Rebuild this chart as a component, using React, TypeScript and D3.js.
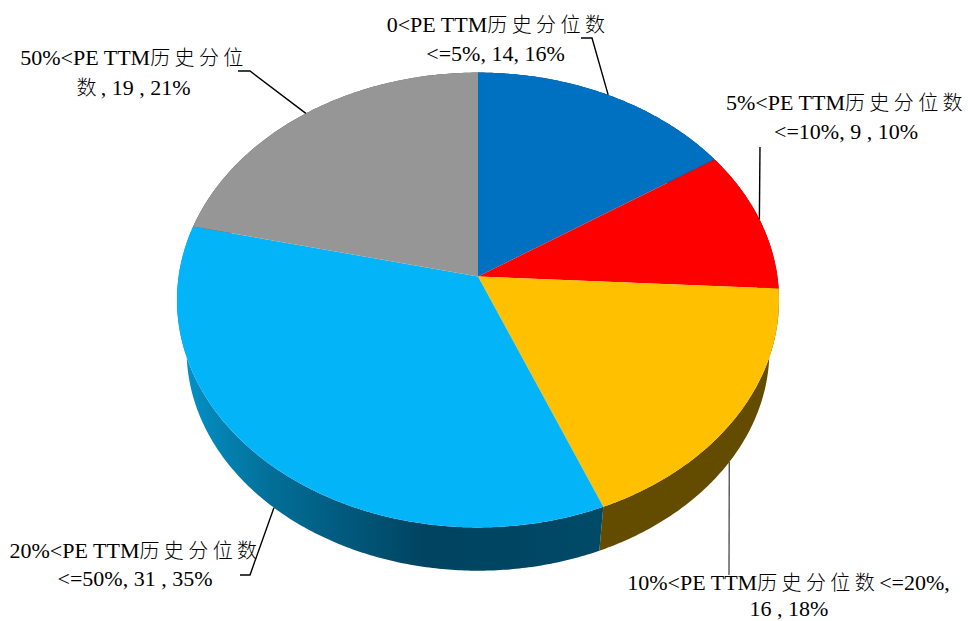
import React from "react";
import * as d3 from "d3";

const categories = [
  "0<PE TTM历史分位数<=5%",
  "5%<PE TTM历史分位数<=10%",
  "10%<PE TTM历史分位数<=20%",
  "20%<PE TTM历史分位数<=50%",
  "50%<PE TTM历史分位数",
];
const counts = [14, 9, 16, 31, 19];
const percents = ["16%", "10%", "18%", "35%", "21%"];
const topColors = ["#0070C0", "#FF0000", "#FFC000", "#04B4F8", "#969696"];
const sideColors = ["#003a66", "#8b0000", "#634c00", "url(#sideBlue)", "#555555"];

// label layout: text lines (anchor centre x, baseline y) + leader elbow
const labelLines: [string, number, number][][] = [
  [["0<PE TTM历史分位数", 498, 32], ["<=5%, 14, 16%", 495.5, 61]],
  [["5%<PE TTM历史分位数", 846.5, 110], ["<=10%, 9 , 10%", 846, 139]],
  [["10%<PE TTM历史分位数<=20%,", 788.5, 590], ["16 , 18%", 789, 616]],
  [["20%<PE TTM历史分位数", 135.5, 558], ["<=50%, 31 , 35%", 135, 586]],
  [["50%<PE TTM历史分位", 134, 65], ["数, 19 , 21%", 133.5, 95]],
];
const leaderElbows: [number, number][][] = [
  [[592, 38], [581, 38]],
  [[760, 147]],
  [[729, 575]],
  [[250, 575], [240, 575]],
  [[250, 71], [238, 71]],
];
const leaderColors = ["#000", "#000", "#555", "#000", "#000"];
const leaderOnRim = [false, false, true, true, false];

const W = 968, H = 621;
const cx = 478, apexY = 276.5;
const persp = 0.1033, R = 299.4, S = 225;
const vanishY = 1880, rimScale = 0.968;

function project(a: number): [number, number] {
  const u = Math.sin(a), v = -Math.cos(a), d = 1 - persp * v;
  return [cx + (R * u) / d, apexY + (S * v) / d];
}
function rim([x, y]: [number, number]): [number, number] {
  return [cx + (x - cx) * rimScale, vanishY + (y - vanishY) * rimScale];
}
function arcPoints(a0: number, a1: number) {
  const n = Math.max(2, Math.ceil((a1 - a0) / 0.01));
  return d3.range(n + 1).map((i) => project(a0 + ((a1 - a0) * i) / n));
}

function isCjk(c: string) {
  return /[\u4e00-\u9fff]/.test(c);
}
function Label({ text, x, y }: { text: string; x: number; y: number }) {
  // split into Latin / CJK runs so that each can have its own font and spacing
  const runs: { s: string; cjk: boolean }[] = [];
  for (const c of text) {
    const cjk = isCjk(c);
    const last = runs[runs.length - 1];
    if (last && last.cjk === cjk) last.s += c;
    else runs.push({ s: c, cjk });
  }
  return (
    <text x={x} y={y} textAnchor="middle" fontFamily="'Liberation Serif'" fontSize={22} fill="#000">
      {runs.map((r, i) =>
        r.cjk ? (
          <tspan key={i} fontFamily="'Noto Sans CJK SC'" fontSize={20} fontWeight={300} letterSpacing={4.4}>
            {r.s}
          </tspan>
        ) : (
          <tspan key={i}>{r.s}</tspan>
        )
      )}
    </text>
  );
}

export default function App() {
  const pie = d3.pie<number>().sort(null).value((d) => d);
  const arcs = pie(counts);
  const line = d3.line();
  return (
    <svg
      width={W}
      height={H}
      viewBox={`0 0 ${W} ${H}`}
      style={{ position: "absolute", left: 0, top: 0, background: "#fff", display: "block" }}
    >
      <defs>
        <linearGradient id="sideBlue" gradientUnits="userSpaceOnUse" x1={187} x2={600} y1={0} y2={0}>
          <stop offset="0" stopColor="#0390c6" />
          <stop offset="0.2" stopColor="#026f98" />
          <stop offset="0.58" stopColor="#004360" />
          <stop offset="1" stopColor="#004a68" />
        </linearGradient>
      </defs>
      {arcs.map((d, i) => {
        const top = arcPoints(d.startAngle, d.endAngle);
        const bottom = top.map(rim).reverse();
        return <path key={i} d={line([...top, ...bottom] as [number, number][]) + "Z"} fill={sideColors[i]} />;
      })}
      {arcs.map((d, i) => {
        const top = arcPoints(d.startAngle, d.endAngle);
        return <path key={i} d={line([[cx, apexY], ...top] as [number, number][]) + "Z"} fill={topColors[i]} />;
      })}
      {arcs.map((d, i) => {
        const p = project((d.startAngle + d.endAngle) / 2);
        const start = leaderOnRim[i] ? rim(p) : p;
        return (
          <path
            key={i}
            d={line([start, ...leaderElbows[i]] as [number, number][]) as string}
            fill="none"
            stroke={leaderColors[i]}
            strokeWidth={1.4}
          />
        );
      })}
      {labelLines.map((lines, i) => (
        <g key={i} data-category={categories[i]} data-count={counts[i]} data-percent={percents[i]}>
          {lines.map(([t, x, y], j) => (
            <Label key={j} text={t} x={x} y={y} />
          ))}
        </g>
      ))}
    </svg>
  );
}
